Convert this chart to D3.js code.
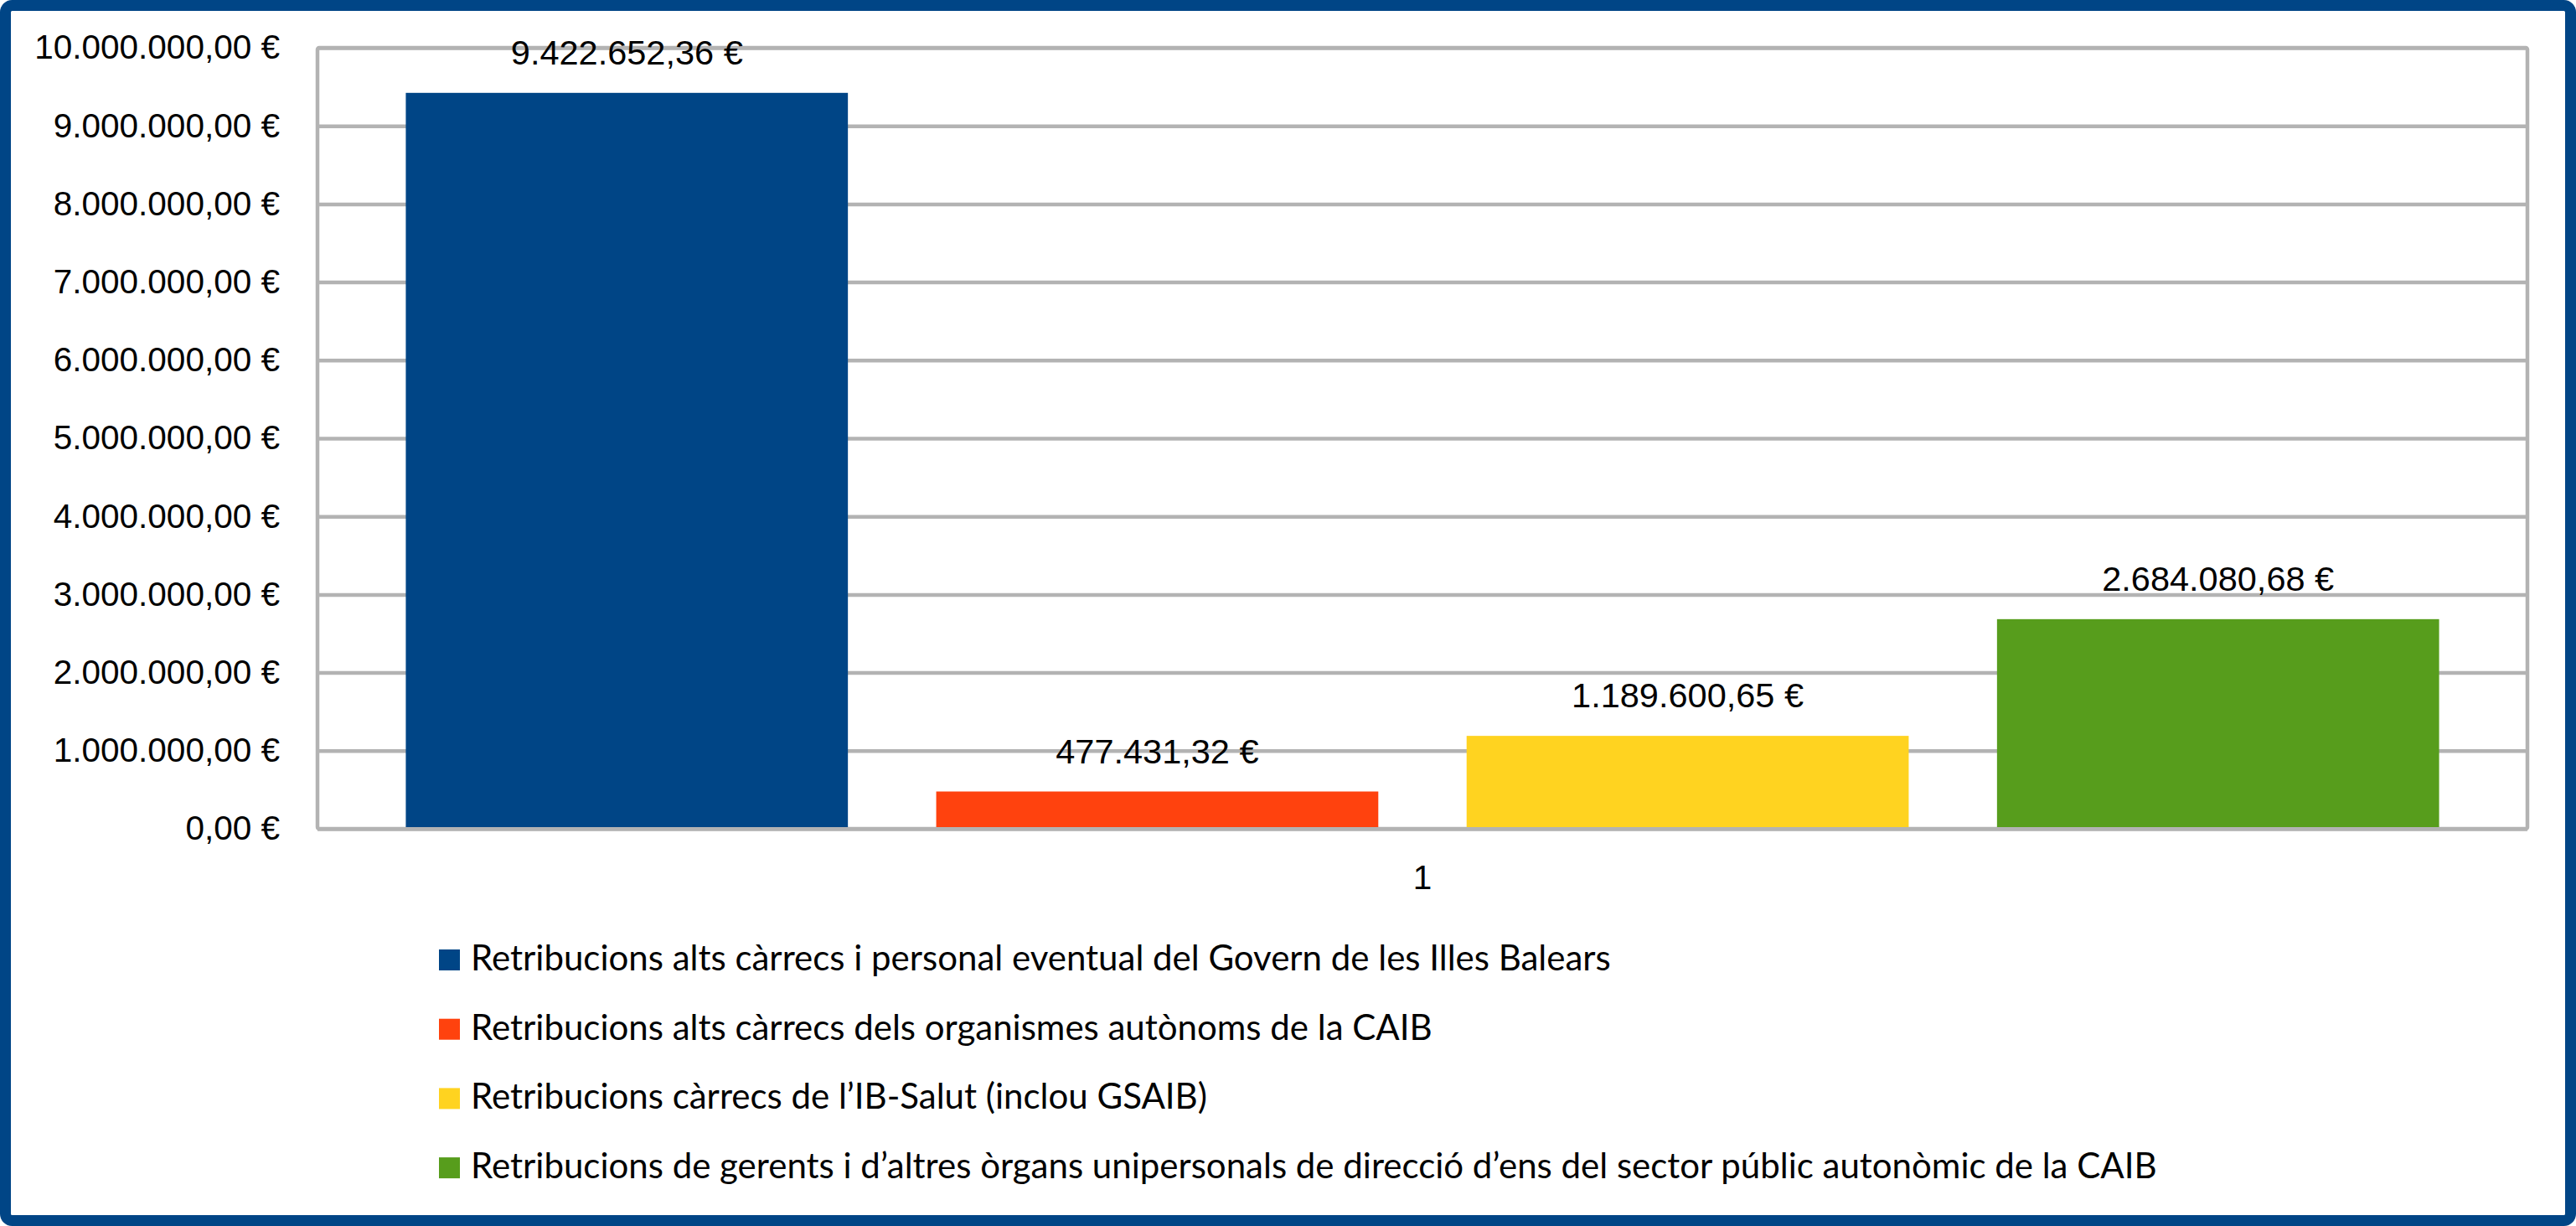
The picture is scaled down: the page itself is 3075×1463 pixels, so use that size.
<!DOCTYPE html>
<html>
<head>
<meta charset="utf-8">
<script src="https://cdn.jsdelivr.net/npm/d3@7"></script>
<style>
  body { margin: 0; background: #fff; }
  svg { display: block; }
</style>
</head>
<body>
<div id="chart"></div>
<script>
// data
var categories = ["1"];
var seriesNames = [
  "Retribucions alts càrrecs i personal eventual del Govern de les Illes Balears",
  "Retribucions alts càrrecs dels organismes autònoms de la CAIB",
  "Retribucions càrrecs de l\u2019IB-Salut (inclou GSAIB)",
  "Retribucions de gerents i d\u2019altres òrgans unipersonals de direcció d\u2019ens del sector públic autonòmic de la CAIB"
];
var seriesValues = [9422652.36, 477431.32, 1189600.65, 2684080.68];
var seriesColors = ["#004586", "#ff420e", "#ffd320", "#579d1c"];
var yTicks = [0, 1000000, 2000000, 3000000, 4000000, 5000000, 6000000, 7000000, 8000000, 9000000, 10000000];

var W = 3075, H = 1463;
var plot = {left: 379, right: 3017, top: 57, bottom: 989};

var locale = d3.formatLocale({decimal: ",", thousands: ".", grouping: [3], currency: ["", "\u00a0€"]});
var fmt = locale.format("$,.2f");

var svg = d3.select("#chart")
  .append("svg")
  .attr("width", W)
  .attr("height", H);

svg.append("rect")
  .attr("x", 0).attr("y", 0)
  .attr("width", W).attr("height", H)
  .attr("fill", "#fff");

var y = d3.scaleLinear()
  .domain([0, 10000000])
  .range([plot.bottom, plot.top]);

var x = d3.scaleBand()
  .domain(seriesNames)
  .range([plot.left, plot.right])
  .paddingInner(0.1665)
  .paddingOuter(0.1665);

//y axis with gridlines
var yAxis = svg.append("g")
  .attr("transform", "translate(" + plot.left + ",0)")
  .call(d3.axisLeft(y)
    .tickValues(yTicks)
    .tickSize(-(plot.right - plot.left))
    .tickPadding(45)
    .tickFormat(fmt));

yAxis.select(".domain").remove();
yAxis.selectAll(".tick line")
  .attr("stroke", "#b3b3b3")
  .attr("stroke-width", 4.5);
yAxis.selectAll(".tick text")
  .attr("font-family", "'Liberation Sans', Arial, sans-serif")
  .attr("font-size", "40.5px")
  .attr("fill", "#000");

// frame of the plot area
svg.append("rect")
  .attr("x", plot.left).attr("y", plot.top)
  .attr("width", plot.right - plot.left)
  .attr("height", plot.bottom - plot.top)
  .attr("fill", "none")
  .attr("stroke", "#b3b3b3")
  .attr("stroke-width", 4.5)
  .attr("rx", 2);

svg.selectAll("rect.bar")
  .data(seriesValues)
  .enter()
  .append("rect")
  .attr("class", "bar")
  .attr("x", function(d, i) { return x(seriesNames[i]); })
  .attr("y", function(d) { return y(d); })
  .attr("width", x.bandwidth())
  .attr("height", function(d) { return plot.bottom - 2 - y(d); })
  .attr("fill", function(d, i) { return seriesColors[i]; });

svg.selectAll("text.val")
  .data(seriesValues)
  .enter()
  .append("text")
  .attr("class", "val")
  .text(function(d) { return fmt(d); })
  .attr("x", function(d, i) { return x(seriesNames[i]) + x.bandwidth() / 2; })
  .attr("y", function(d) { return y(d) - 34; })
  .attr("text-anchor", "middle")
  .attr("font-family", "'Liberation Sans', Arial, sans-serif")
  .attr("font-size", "41.5px")
  .attr("fill", "#000");

// category label
svg.append("text")
  .text(categories[0])
  .attr("x", (plot.left + plot.right) / 2)
  .attr("y", 1061)
  .attr("text-anchor", "middle")
  .attr("font-family", "'Liberation Sans', Arial, sans-serif")
  .attr("font-size", "40.5px")
  .attr("fill", "#000");

// legend
var legend = svg.selectAll("g.leg")
  .data(seriesNames)
  .enter()
  .append("g")
  .attr("class", "leg")
  .attr("transform", function(d, i) { return "translate(524," + (1158 + i * 82.7) + ")"; });

legend.append("rect")
  .attr("x", 0).attr("y", -25)
  .attr("width", 25).attr("height", 25)
  .attr("fill", function(d, i) { return seriesColors[i]; });

legend.append("text")
  .text(function(d) { return d; })
  .attr("x", 38)
  .attr("y", 0)
  .attr("font-family", "Lato, sans-serif")
  .attr("font-size", "42px")
  .attr("fill", "#000");

// outer border
svg.append("rect")
  .attr("x", 6.5).attr("y", 6.5)
  .attr("width", W - 13).attr("height", H - 13)
  .attr("rx", 8)
  .attr("fill", "none")
  .attr("stroke", "#004586")
  .attr("stroke-width", 13);
</script>
</body>
</html>
